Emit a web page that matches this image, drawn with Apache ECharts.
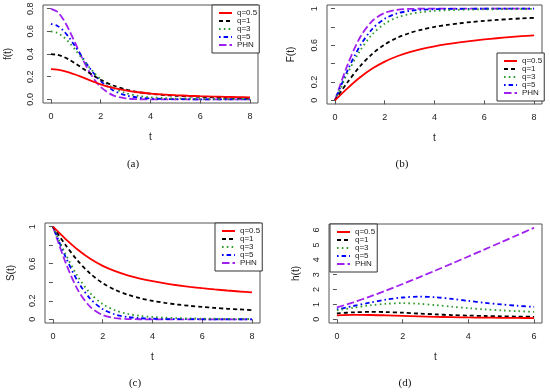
<!DOCTYPE html>
<html><head><meta charset="utf-8">
<script src="https://cdn.jsdelivr.net/npm/echarts@6/dist/echarts.min.js"></script>
<style>html,body{margin:0;padding:0;background:#fff}#c{width:550px;height:392px}</style>
</head><body><div id="c"></div>
<script>
// ---------------- data ----------------
const seriesNames = ['q=0.5', 'q=1', 'q=3', 'q=5', 'PHN'];
const tDens = [0, 0.25, 0.5, 0.75, 1, 1.25, 1.5, 1.75, 2, 2.5, 3, 3.5, 4, 4.5, 5, 5.5, 6, 6.5, 7, 7.5, 8];
const tFull = [0, 0.5, 1, 1.5, 2, 2.5, 3, 3.5, 4, 4.5, 5, 5.5, 6, 6.5, 7, 7.5, 8];
const tHaz = [0, 0.5, 1, 1.5, 2, 2.5, 3, 3.5, 4, 4.5, 5, 5.5, 6];

// (a) density f(t)  (x = tDens)
const fQ05 = [0.2660, 0.2624, 0.2523, 0.2366, 0.2170, 0.1954, 0.1734, 0.1523, 0.1330, 0.1014, 0.0786, 0.0627, 0.0514, 0.0431, 0.0368, 0.0319, 0.0280, 0.0248, 0.0222, 0.0200, 0.0182];
const fQ1 = [0.3989, 0.3928, 0.3750, 0.3477, 0.3139, 0.2769, 0.2395, 0.2042, 0.1725, 0.1221, 0.0877, 0.0650, 0.0499, 0.0394, 0.0319, 0.0264, 0.0222, 0.0189, 0.0163, 0.0142, 0.0125];
const fQ3 = [0.5984, 0.5861, 0.5509, 0.4972, 0.4318, 0.3618, 0.2933, 0.2310, 0.1777, 0.1003, 0.0555, 0.0314, 0.0186, 0.0117, 0.0077, 0.0052, 0.0037, 0.0027, 0.0020, 0.0015, 0.0012];
const fQ5 = [0.6649, 0.6495, 0.6057, 0.5393, 0.4592, 0.3745, 0.2933, 0.2212, 0.1612, 0.0790, 0.0362, 0.0164, 0.0077, 0.0038, 0.0020, 0.0012, 0.0007, 0.0004, 0.0003, 0.0002, 0.0001];
const fPHN = [0.7979, 0.7733, 0.7041, 0.6023, 0.4839, 0.3653, 0.2590, 0.1726, 0.1080, 0.0351, 0.0089, 0.0017, 0.0003, 0.0000, 0, 0, 0, 0, 0, 0, 0];

// (b) distribution F(t)  (x = tFull)
const FQ05 = [0, 0.1307, 0.2486, 0.3463, 0.4226, 0.4807, 0.5254, 0.5605, 0.5889, 0.6124, 0.6323, 0.6494, 0.6643, 0.6775, 0.6892, 0.6998, 0.7093];
const FQ1 = [0, 0.1954, 0.3687, 0.5071, 0.6095, 0.6824, 0.7343, 0.7721, 0.8005, 0.8227, 0.8404, 0.8549, 0.8670, 0.8772, 0.8860, 0.8936, 0.9003];
const FQ3 = [0, 0.2911, 0.5387, 0.7198, 0.8360, 0.9040, 0.9418, 0.9629, 0.9751, 0.9825, 0.9872, 0.9904, 0.9926, 0.9942, 0.9953, 0.9962, 0.9969];
const FQ5 = [0, 0.3224, 0.5909, 0.7784, 0.8900, 0.9481, 0.9756, 0.9881, 0.9938, 0.9965, 0.9980, 0.9987, 0.9992, 0.9994, 0.9996, 0.9997, 0.9998];
const FPHN = [0, 0.3829, 0.6827, 0.8664, 0.9545, 0.9876, 0.9973, 0.9995, 0.9999, 1, 1, 1, 1, 1, 1, 1, 1];

// (c) survival S(t)  (x = tFull)
const SQ05 = [1, 0.8693, 0.7514, 0.6537, 0.5774, 0.5193, 0.4746, 0.4395, 0.4111, 0.3876, 0.3677, 0.3506, 0.3357, 0.3225, 0.3108, 0.3002, 0.2907];
const SQ1 = [1, 0.8046, 0.6313, 0.4929, 0.3905, 0.3176, 0.2657, 0.2279, 0.1995, 0.1773, 0.1596, 0.1451, 0.1330, 0.1228, 0.1140, 0.1064, 0.0997];
const SQ3 = [1, 0.7089, 0.4613, 0.2802, 0.1640, 0.0960, 0.0582, 0.0371, 0.0249, 0.0175, 0.0128, 0.0096, 0.0074, 0.0058, 0.0047, 0.0038, 0.0031];
const SQ5 = [1, 0.6776, 0.4091, 0.2216, 0.1100, 0.0519, 0.0244, 0.0119, 0.0062, 0.0035, 0.0020, 0.0013, 0.0008, 0.0006, 0.0004, 0.0003, 0.0002];
const SPHN = [1, 0.6171, 0.3173, 0.1336, 0.0455, 0.0124, 0.0027, 0.0005, 0.0001, 0, 0, 0, 0, 0, 0, 0, 0];

// (d) hazard h(t)  (x = tHaz)
const hQ05 = [0.2660, 0.2902, 0.2889, 0.2652, 0.2303, 0.1952, 0.1657, 0.1427, 0.1250, 0.1111, 0.1000, 0.0909, 0.0833];
const hQ1 = [0.3989, 0.4661, 0.4973, 0.4859, 0.4417, 0.3844, 0.3299, 0.2851, 0.2499, 0.2222, 0.2000, 0.1818, 0.1667];
const hQ3 = [0.5984, 0.7771, 0.9362, 1.0464, 1.0838, 1.0448, 0.9536, 0.8465, 0.7481, 0.6664, 0.6000, 0.5455, 0.5000];
const hQ5 = [0.6649, 0.8938, 1.1222, 1.3233, 1.4659, 1.5216, 1.4822, 1.3729, 1.2373, 1.1091, 1.0000, 0.9091, 0.8333];
const hPHN = [0.7979, 1.1411, 1.5251, 1.9387, 2.3732, 2.8225, 3.2831, 3.7514, 4.2256, 4.7043, 5.1865, 5.6720, 6.1585];

// tick values / labels
const xTicks8 = [0, 2, 4, 6, 8];
const xTicks6 = [0, 2, 4, 6];
const yTicksA = [0, 0.2, 0.4, 0.6, 0.8];
const yLabelsA = ['0.0', '0.2', '0.4', '0.6', '0.8'];
const yTicksBC = [0, 0.2, 0.4, 0.6, 0.8, 1];
const yLabelValsBC = [0, 0.2, 0.6, 1];
const yLabelsBC = ['0', '0.2', '0.6', '1'];
const yTicksD = [0, 1, 2, 3, 4, 5, 6];
const yLabelsD = ['0', '1', '2', '3', '4', '5', '6'];
const panelCaptions = ['(a)', '(b)', '(c)', '(d)'];
const yNames = ['f(t)', 'F(t)', 'S(t)', 'h(t)'];
const xName = 't';

// ---------------- styles ----------------
const colors = ['#FF0000', '#000000', '#2E9B2E', '#0000FF', '#A020F0'];
const dashes = ['solid', [4, 3], [1.6, 3.2], [1.6, 3, 4.5, 3], [7.5, 3]];
const FONT = 'Liberation Sans, Arial, sans-serif';

const chart = echarts.init(document.getElementById('c'), null, {renderer: 'canvas'});

const grids = [
  {left: 43, top: 5, width: 215, height: 98},
  {left: 327, top: 5, width: 215, height: 99},
  {left: 45, top: 223, width: 215, height: 100},
  {left: 329, top: 224, width: 213, height: 99}
].map(g => Object.assign({show: true, borderColor: '#555', borderWidth: 1, backgroundColor: 'transparent', containLabel: false, outerBoundsMode: 'none'}, g));

function xAxis(gi, min, max, ticks) {
  return {
    type: 'value', gridIndex: gi, min: min, max: max,
    name: xName, nameLocation: 'middle', nameGap: 29,
    nameTextStyle: {fontFamily: FONT, fontSize: 10, color: '#222'},
    axisLine: {show: false}, splitLine: {show: false},
    axisTick: {show: true, length: 4, customValues: ticks, lineStyle: {color: '#555'}},
    axisLabel: {customValues: ticks, margin: 9, fontFamily: FONT, fontSize: 9, color: '#222'}
  };
}
function yAxis(gi, min, max, ticks, labelVals, labels, name, gap) {
  return {
    type: 'value', gridIndex: gi, min: min, max: max,
    name: name, nameLocation: 'middle', nameGap: gap, nameRotate: 90,
    nameTextStyle: {fontFamily: FONT, fontSize: 10, color: '#222'},
    axisLine: {show: false}, splitLine: {show: false},
    axisTick: {show: true, length: 4, customValues: ticks, lineStyle: {color: '#555'}},
    axisLabel: {
      customValues: labelVals, rotate: 90, margin: 8, fontFamily: FONT, fontSize: 9, color: '#222',
      formatter: v => { const i = labelVals.findIndex(t => Math.abs(t - v) < 1e-9); return i >= 0 ? labels[i] : ''; }
    }
  };
}

const xAxes = [
  xAxis(0, -0.32, 8.32, xTicks8),
  xAxis(1, -0.32, 8.32, xTicks8),
  xAxis(2, -0.32, 8.32, xTicks8),
  xAxis(3, -0.24, 6.24, xTicks6)
];
const yAxes = [
  yAxis(0, -0.032, 0.832, yTicksA, yTicksA, yLabelsA, yNames[0], 30),
  yAxis(1, -0.04, 1.04, yTicksBC, yLabelValsBC, yLabelsBC, yNames[1], 31),
  yAxis(2, -0.04, 1.04, yTicksBC, yLabelValsBC, yLabelsBC, yNames[2], 29),
  yAxis(3, -0.25, 6.41, yTicksD, yTicksD, yLabelsD, yNames[3], 28)
];

const panelData = [
  [tDens, [fQ05, fQ1, fQ3, fQ5, fPHN]],
  [tFull, [FQ05, FQ1, FQ3, FQ5, FPHN]],
  [tFull, [SQ05, SQ1, SQ3, SQ5, SPHN]],
  [tHaz, [hQ05, hQ1, hQ3, hQ5, hPHN]]
];

const series = [];
panelData.forEach((pd, gi) => {
  const ts = pd[0];
  pd[1].forEach((vals, si) => {
    series.push({
      type: 'line', name: seriesNames[si], xAxisIndex: gi, yAxisIndex: gi,
      data: ts.map((t, k) => [t, vals[k]]),
      smooth: 0.3, symbol: 'none', silent: true, animation: false, z: 10 - si,
      lineStyle: {color: colors[si], width: 1.8, type: dashes[si]},
      itemStyle: {color: colors[si]}
    });
  });
});

const legendPos = [
  {left: 212, top: 5}, {left: 497, top: 53}, {left: 215, top: 223}, {left: 330, top: 224}
];
const legends = legendPos.map(p => ({
  left: p.left, top: p.top, orient: 'vertical', data: seriesNames,
  backgroundColor: '#fff', borderColor: '#333', borderWidth: 1, borderRadius: 0,
  padding: [4, 2, 4, 6], itemGap: 0, itemWidth: 13, itemHeight: 8,
  selectedMode: false,
  itemStyle: {opacity: 0},
  textStyle: {fontFamily: FONT, fontSize: 8, lineHeight: 8, color: '#222'}
}));

const captionPos = [[133, 164], [402, 164], [135, 383], [405, 383]];
const graphics = captionPos.map((p, i) => ({
  type: 'text', x: p[0], y: p[1],
  style: {text: panelCaptions[i], font: '11px "Liberation Serif", "DejaVu Serif", serif', fill: '#111', textAlign: 'center', textVerticalAlign: 'middle'}
}));

chart.setOption({
  animation: false,
  grid: grids, xAxis: xAxes, yAxis: yAxes, series: series,
  legend: legends, graphic: graphics
});
</script></body></html>
